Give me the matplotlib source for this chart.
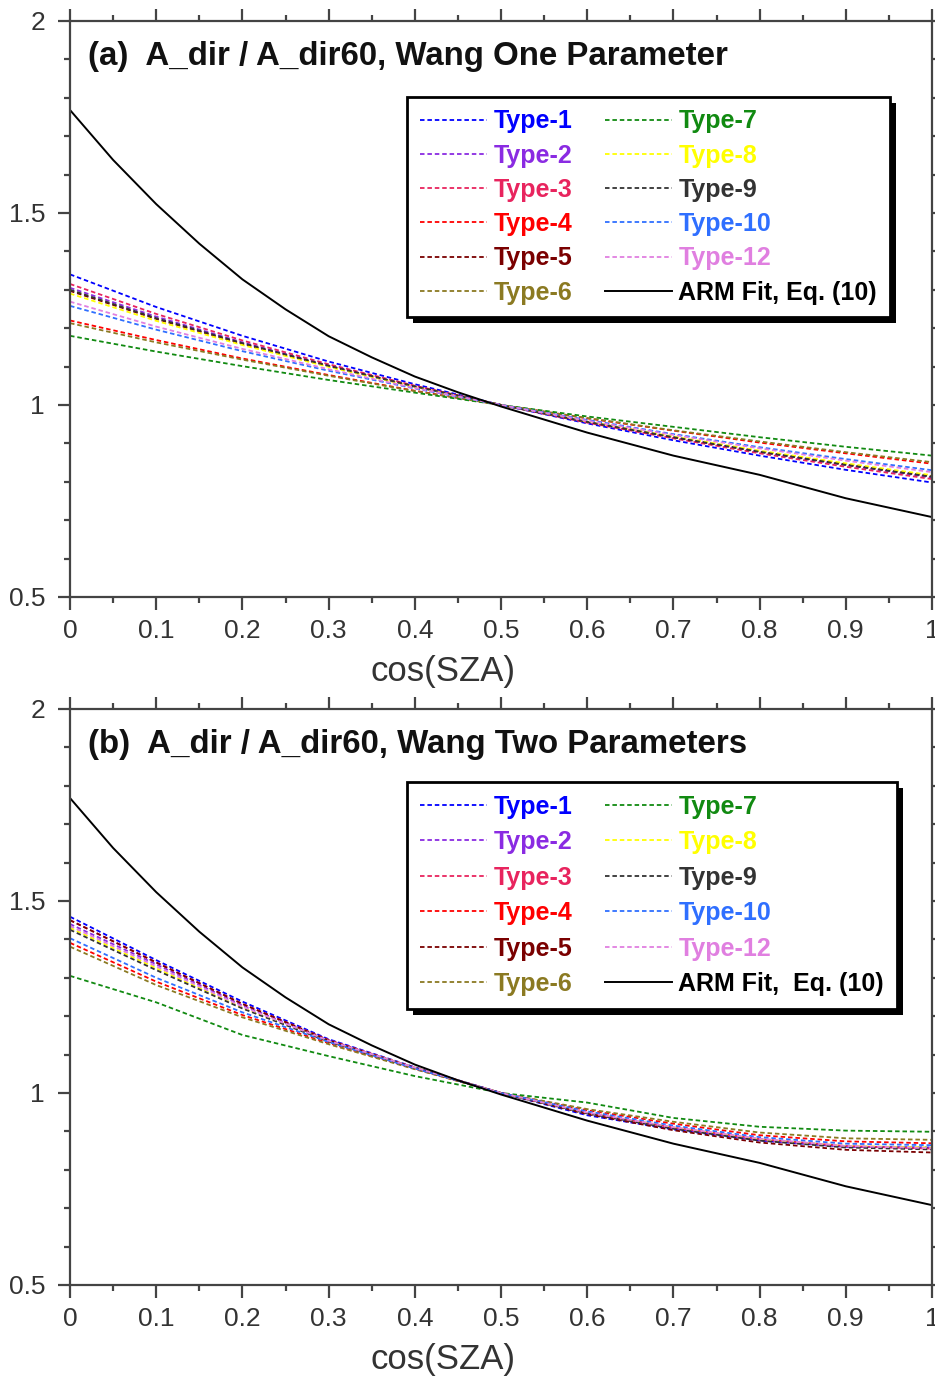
import matplotlib.pyplot as plt
from matplotlib.patches import Rectangle
from matplotlib.transforms import IdentityTransform
from matplotlib.ticker import MultipleLocator

# cos(SZA) grid used for the aerosol type curves
cos_sza = [0.0, 0.1, 0.2, 0.3, 0.4, 0.5, 0.6, 0.7, 0.8, 0.9, 1.0]

# ARM fit, Eq. (10), same in both panels
arm_cos = [0.0, 0.05, 0.1, 0.15, 0.2, 0.25, 0.3, 0.35, 0.4, 0.45, 0.5, 0.6, 0.7, 0.8, 0.9, 1.0]
arm_fit = [1.768, 1.638, 1.523, 1.420, 1.327, 1.249, 1.179, 1.124, 1.074, 1.033, 0.996,
           0.928, 0.868, 0.818, 0.757, 0.708]

type_names = ['Type-1', 'Type-2', 'Type-3', 'Type-4', 'Type-5', 'Type-6',
              'Type-7', 'Type-8', 'Type-9', 'Type-10', 'Type-12']
type_colors = ['#0000ff', '#8a2be2', '#e8245e', '#ff0000', '#7a0000', '#8b7a22',
               '#118a11', '#ffff00', '#333333', '#2f6fff', '#e07fe0']

# (a) Wang one parameter, one row per type
one_param = [
    [1.340, 1.255, 1.180, 1.113, 1.054, 1.0, 0.952, 0.908, 0.868, 0.831, 0.798],  # Type-1
    [1.305, 1.230, 1.163, 1.103, 1.049, 1.0, 0.955, 0.915, 0.877, 0.843, 0.811],  # Type-2
    [1.315, 1.237, 1.168, 1.106, 1.050, 1.0, 0.954, 0.913, 0.874, 0.839, 0.807],  # Type-3
    [1.220, 1.169, 1.121, 1.078, 1.037, 1.0, 0.965, 0.933, 0.902, 0.874, 0.847],  # Type-4
    [1.297, 1.224, 1.159, 1.101, 1.048, 1.0, 0.956, 0.916, 0.879, 0.845, 0.814],  # Type-5
    [1.213, 1.163, 1.118, 1.076, 1.036, 1.0, 0.966, 0.934, 0.905, 0.877, 0.851],  # Type-6
    [1.180, 1.139, 1.101, 1.065, 1.032, 1.0, 0.970, 0.943, 0.916, 0.891, 0.868],  # Type-7
    [1.290, 1.219, 1.156, 1.099, 1.047, 1.0, 0.957, 0.918, 0.881, 0.848, 0.817],  # Type-8
    [1.300, 1.226, 1.161, 1.102, 1.048, 1.0, 0.956, 0.916, 0.878, 0.844, 0.813],  # Type-9
    [1.258, 1.196, 1.140, 1.089, 1.043, 1.0, 0.961, 0.924, 0.890, 0.859, 0.830],  # Type-10
    [1.269, 1.204, 1.146, 1.093, 1.044, 1.0, 0.959, 0.922, 0.887, 0.855, 0.825],  # Type-12
]

# (b) Wang two parameters, one row per type
two_param = [
    [1.459, 1.346, 1.238, 1.140, 1.067, 1.0, 0.942, 0.905, 0.876, 0.860, 0.858],  # Type-1
    [1.440, 1.335, 1.228, 1.137, 1.066, 1.0, 0.947, 0.908, 0.877, 0.860, 0.857],  # Type-2
    [1.450, 1.340, 1.232, 1.138, 1.066, 1.0, 0.948, 0.910, 0.880, 0.862, 0.855],  # Type-3
    [1.391, 1.290, 1.203, 1.130, 1.063, 1.0, 0.955, 0.920, 0.890, 0.874, 0.869],  # Type-4
    [1.450, 1.340, 1.232, 1.137, 1.065, 1.0, 0.945, 0.903, 0.871, 0.852, 0.845],  # Type-5
    [1.381, 1.281, 1.197, 1.127, 1.062, 1.0, 0.958, 0.925, 0.897, 0.882, 0.878],  # Type-6
    [1.305, 1.236, 1.151, 1.096, 1.044, 1.0, 0.975, 0.935, 0.912, 0.902, 0.899],  # Type-7
    [1.430, 1.325, 1.222, 1.135, 1.066, 1.0, 0.948, 0.910, 0.879, 0.862, 0.858],  # Type-8
    [1.425, 1.320, 1.220, 1.134, 1.065, 1.0, 0.947, 0.907, 0.876, 0.858, 0.853],  # Type-9
    [1.403, 1.300, 1.210, 1.133, 1.064, 1.0, 0.952, 0.915, 0.885, 0.868, 0.864],  # Type-10
    [1.435, 1.330, 1.225, 1.136, 1.066, 1.0, 0.949, 0.911, 0.881, 0.862, 0.856],  # Type-12
]

TICK_FONT = ['Liberation Sans', 'DejaVu Sans']
BOLD_FONT = ['Liberation Sans', 'DejaVu Sans']


def draw_panel(ax, values, title, arm_label, label_spacing, legend_top):
    for vals, name, color in zip(values, type_names, type_colors):
        ax.plot(cos_sza, vals, color=color, lw=1.3, dashes=(2.5, 1.6), label=name)
    ax.plot(arm_cos, arm_fit, color='black', lw=1.4, label=arm_label)

    ax.set_xlim(0, 1)
    ax.set_ylim(0.5, 2)
    ax.xaxis.set_major_locator(MultipleLocator(0.1))
    ax.xaxis.set_minor_locator(MultipleLocator(0.05))
    ax.yaxis.set_major_locator(MultipleLocator(0.5))
    ax.yaxis.set_minor_locator(MultipleLocator(0.1))
    ax.xaxis.set_major_formatter(lambda v, p: f'{v:g}')
    ax.yaxis.set_major_formatter(lambda v, p: f'{v:g}')
    ax.tick_params(which='both', direction='out', top=True, right=True,
                   width=1.6, color='#444444', labelcolor='#333333')
    ax.tick_params(which='major', length=9, labelsize=19, pad=7)
    ax.tick_params(which='minor', length=4.5)
    ax.tick_params(axis='y', which='major', pad=9)
    for lab in ax.get_xticklabels() + ax.get_yticklabels():
        lab.set_family(TICK_FONT)
    for sp in ax.spines.values():
        sp.set_linewidth(1.6)
        sp.set_color('#444444')

    ax.text(0.021, 0.939, title, transform=ax.transAxes, fontsize=23.8, fontweight='bold',
            family=BOLD_FONT, va='center', ha='left', color='#111111')

    leg = ax.legend(ncol=2, loc='upper left', bbox_to_anchor=(0.391, legend_top),
                    borderaxespad=0, fancybox=False, framealpha=1, edgecolor='black',
                    prop={'family': BOLD_FONT, 'weight': 'bold', 'size': 18},
                    labelcolor='linecolor', handlelength=2.7, handletextpad=0.25,
                    columnspacing=1.3, labelspacing=label_spacing, borderpad=0.5)
    leg.get_frame().set_linewidth(2)
    leg.set_zorder(5)
    return leg


fig = plt.figure(figsize=(9.35, 13.78), dpi=100)
ax_a = fig.add_axes([0.0749, 0.5668, 0.9219, 0.418])
ax_b = fig.add_axes([0.0749, 0.0675, 0.9219, 0.418])

leg_a = draw_panel(ax_a, one_param, '(a)  A_dir / A_dir60, Wang One Parameter',
                   'ARM Fit, Eq. (10)', 0.41, 0.868)
leg_b = draw_panel(ax_b, two_param, '(b)  A_dir / A_dir60, Wang Two Parameters',
                   'ARM Fit,  Eq. (10)', 0.46, 0.873)

fig.text(443 / 935, 1 - 672 / 1378, 'cos(SZA)', fontsize=25, family=TICK_FONT,
         ha='center', va='center', color='#333333')
fig.text(443 / 935, 1 - 1360 / 1378, 'cos(SZA)', fontsize=25, family=TICK_FONT,
         ha='center', va='center', color='#333333')

# black drop shadow under each legend box
fig.canvas.draw()
for ax, leg in [(ax_a, leg_a), (ax_b, leg_b)]:
    bb = leg.get_window_extent()
    shadow = Rectangle((bb.x0 + 6, bb.y0 - 6), bb.width, bb.height, transform=IdentityTransform(),
                       facecolor='black', edgecolor='none', zorder=4.9, clip_on=False)
    ax.add_artist(shadow)

fig.savefig('out.png', dpi=100)
